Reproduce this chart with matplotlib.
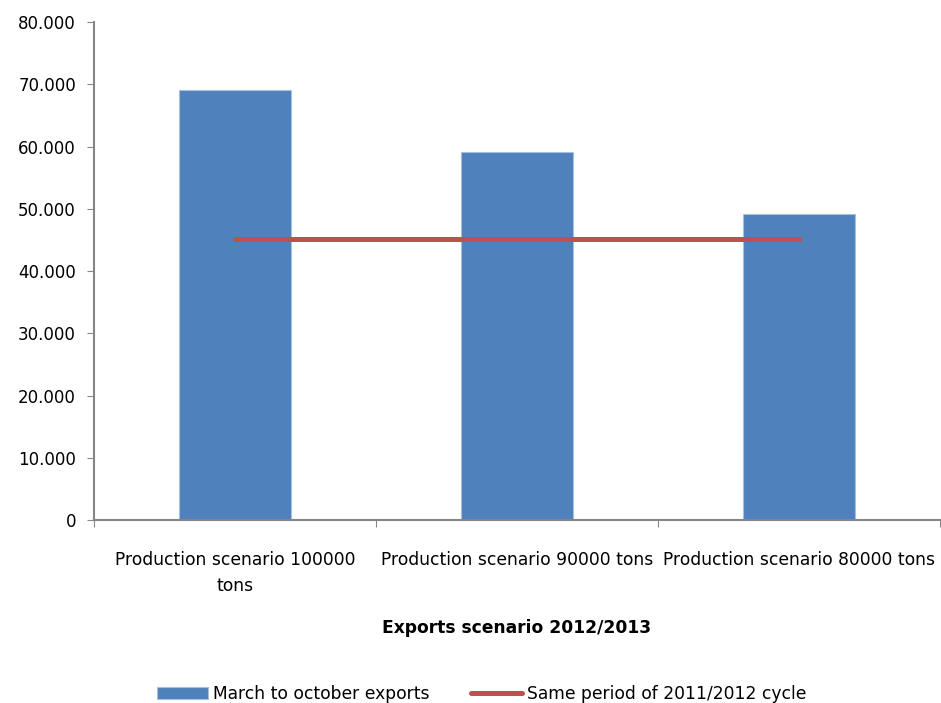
import matplotlib.pyplot as plt
from matplotlib.ticker import FuncFormatter, FixedLocator

# Export scenarios (tons)
kategoriak = ["Production scenario 100000\ntons",
              "Production scenario 90000 tons",
              "Production scenario 80000 tons"]
exportok = [69150, 59100, 49200]
elozo_idoszak = [45200, 45200, 45200]

kek = "#4F81BD"
piros = "#C0504D"
szurke = "#868686"

fig = plt.figure(figsize=(9.41, 7.03), dpi=100)
ax = fig.add_axes([0.0999, 0.2603, 0.8991, 0.7084])

x = list(range(len(kategoriak)))
oszlopok = ax.bar(x, exportok, width=0.4, color=kek, edgecolor="#A7C0DE", linewidth=0.8,
                  label="March to october exports", zorder=2)
vonal, = ax.plot(x, elozo_idoszak, color=piros, linewidth=3.6, solid_capstyle="round",
                 label="Same period of 2011/2012 cycle", zorder=3)

ax.set_xlim(-0.5, len(kategoriak) - 0.5)
ax.set_ylim(0, 80000)
ax.set_yticks(range(0, 80001, 10000))
ax.yaxis.set_major_formatter(FuncFormatter(lambda v, p: f"{int(v):,}".replace(",", ".")))

# category labels sit between the boundary ticks
ax.xaxis.set_major_locator(FixedLocator([-0.5, 0.5, 1.5, 2.5]))
ax.set_xticklabels([])
ax.set_xticks(x, minor=True)
ax.set_xticklabels(kategoriak, minor=True, fontsize=12.3, linespacing=1.6)
ax.tick_params(axis="x", which="minor", length=0, pad=22)
ax.tick_params(axis="x", which="major", length=5, color=szurke)
ax.tick_params(axis="y", length=5, color=szurke, labelsize=12, pad=8)

for s in ["top", "right"]:
    ax.spines[s].set_visible(False)
for s in ["left", "bottom"]:
    ax.spines[s].set_color(szurke)
    ax.spines[s].set_linewidth(1.5)

fig.text(0.5494, 1 - 628 / 703, "Exports scenario 2012/2013", ha="center", va="center",
         fontsize=12.3, fontweight="bold")

fig.legend([oszlopok, vonal], [oszlopok.get_label(), vonal.get_label()],
           loc="center", bbox_to_anchor=(0.512, 1 - 694 / 703), ncol=2, frameon=False,
           fontsize=12.3, handlelength=3.0, handleheight=0.7, handletextpad=0.3,
           columnspacing=2.4)

fig.savefig("out.png", dpi=100)
